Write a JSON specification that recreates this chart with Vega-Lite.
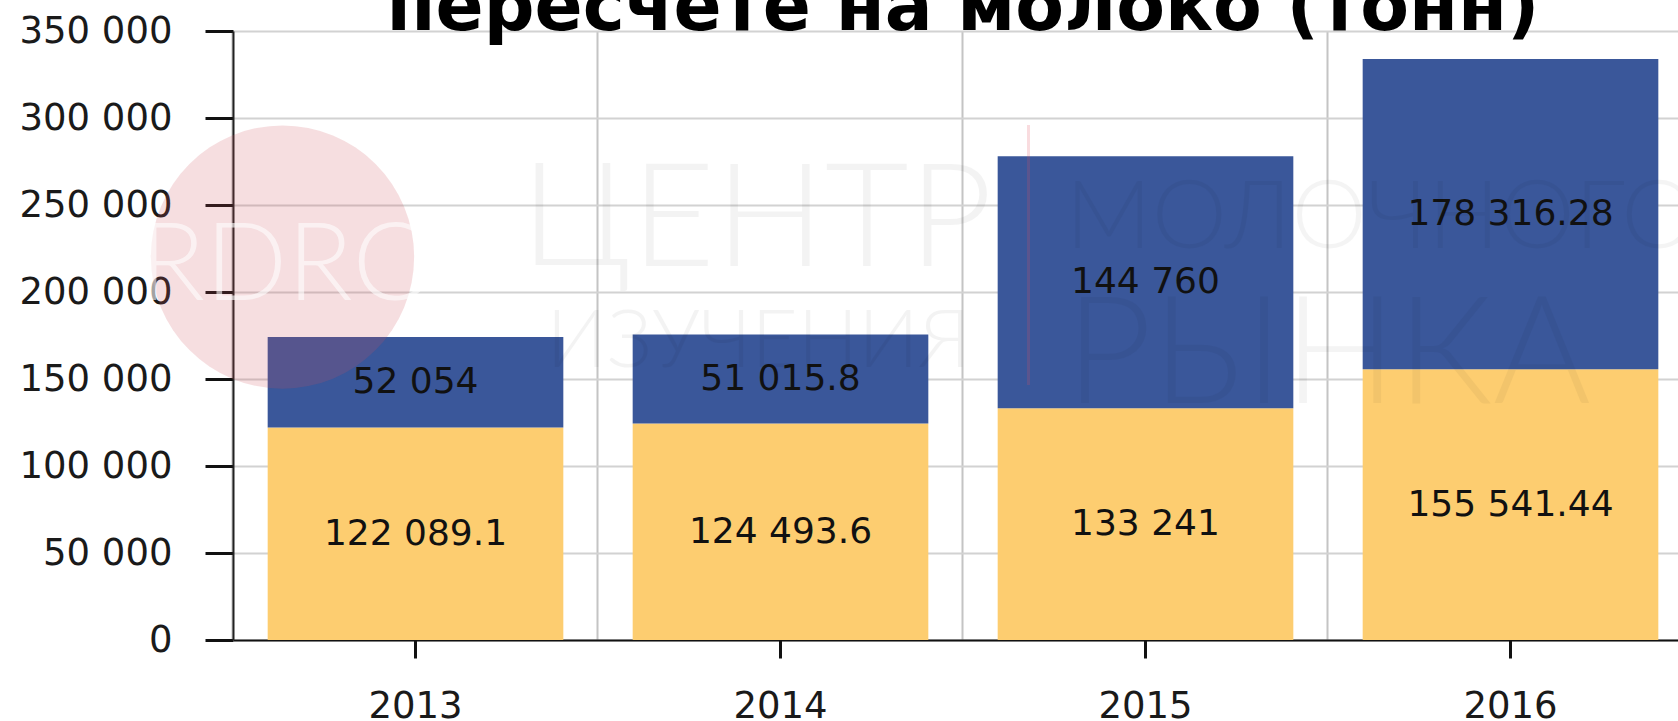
{
  "$schema": "https://vega.github.io/schema/vega-lite/v6.json",
  "width": 1460,
  "height": 609,
  "autosize": {"type": "none"},
  "padding": {"left": 233, "top": 31, "right": -15, "bottom": 81},
  "background": "white",
  "title": {
    "text": "пересчете на молоко (тонн)",
    "font": "DejaVu Sans",
    "fontSize": 71,
    "fontWeight": "bold",
    "color": "#000000",
    "anchor": "middle",
    "frame": "group",
    "baseline": "alphabetic",
    "offset": 0,
    "dy": 89
  },
  "config": {
    "locale": {"number": {"decimal": ".", "thousands": " ", "grouping": [3], "currency": ["", ""]}},
    "view": {"stroke": null},
    "axis": {"labelFont": "DejaVu Sans", "labelColor": "#1a1a1a"}
  },
  "data": {
    "values": [
      {"year": "2013", "series": "1", "value": 122089.1},
      {"year": "2013", "series": "2", "value": 52054},
      {"year": "2014", "series": "1", "value": 124493.6},
      {"year": "2014", "series": "2", "value": 51015.8},
      {"year": "2015", "series": "1", "value": 133241},
      {"year": "2015", "series": "2", "value": 144760},
      {"year": "2016", "series": "1", "value": 155541.44},
      {"year": "2016", "series": "2", "value": 178316.28}
    ]
  },
  "resolve": {"axis": {"x": "independent"}},
  "layer": [
    {
      "mark": {"type": "bar"},
      "encoding": {
        "x": {
          "field": "year", "type": "nominal",
          "scale": {"paddingInner": 0.19, "paddingOuter": 0.095},
          "axis": {
            "orient": "bottom", "title": null, "labels": false, "ticks": false,
            "grid": true, "bandPosition": -0.1173, "gridColor": "#c4c4c4", "gridWidth": 2,
            "domain": true, "domainColor": "#111111", "domainWidth": 2
          }
        },
        "y": {
          "field": "value", "type": "quantitative", "stack": "zero",
          "scale": {"domain": [0, 350000], "nice": false},
          "axis": {
            "title": null, "values": [0, 50000, 100000, 150000, 200000, 250000, 300000, 350000],
            "format": ",d", "labelFontSize": 37, "labelPadding": 33,
            "tickSize": 28, "tickWidth": 3, "tickColor": "#111111",
            "domainColor": "#222222", "domainWidth": 2,
            "grid": true, "gridColor": "#d2d2d2", "gridWidth": 2
          }
        },
        "color": {
          "field": "series", "type": "nominal",
          "scale": {"domain": ["1", "2"], "range": ["#FDCD70", "#3A579A"]},
          "legend": null
        },
        "order": {"field": "series", "sort": "ascending"}
      }
    },
    {
      "mark": {"type": "text", "font": "DejaVu Sans", "fontSize": 36, "color": "#111111", "baseline": "middle", "align": "center"},
      "encoding": {
        "x": {
          "field": "year", "type": "nominal",
          "axis": {
            "orient": "bottom", "title": null, "grid": false, "domain": false,
            "ticks": true, "tickSize": 18, "tickWidth": 3, "tickColor": "#111111",
            "labelFontSize": 37, "labelPadding": 30, "labelAngle": 0
          }
        },
        "y": {"field": "value", "type": "quantitative", "stack": "zero", "bandPosition": 0.5},
        "detail": {"field": "series"},
        "order": {"field": "series", "sort": "ascending"},
        "text": {"field": "value", "type": "quantitative", "format": ","}
      }
    },
    {
      "data": {"values": [{"label": "RDRC"}]},
      "mark": {"type": "point", "filled": true, "shape": "circle", "size": 69300, "color": "#d0505a", "opacity": 0.19, "xOffset": -133},
      "encoding": {
        "x": {"datum": "2013", "type": "nominal", "axis": null},
        "y": {"datum": 220100, "type": "quantitative"}
      }
    },
    {
      "data": {"values": [{"label": "RDRC"}]},
      "mark": {"type": "text", "font": "Lato", "fontWeight": 300, "fontSize": 108, "color": "white", "opacity": 0.6, "align": "center", "baseline": "middle", "xOffset": -133},
      "encoding": {
        "x": {"datum": "2013", "type": "nominal", "axis": null},
        "y": {"datum": 214000, "type": "quantitative"},
        "text": {"field": "label"}
      }
    },
    {
      "data": {"values": [{"label": "ЦЕНТР"}]},
      "mark": {"type": "text", "font": "Lato", "fontWeight": 300, "fontSize": 145, "color": "#000000", "opacity": 0.045, "align": "center", "baseline": "middle", "xOffset": -24},
      "encoding": {
        "x": {"datum": "2014", "type": "nominal", "axis": null},
        "y": {"datum": 240230, "type": "quantitative"},
        "text": {"field": "label"}
      }
    },
    {
      "data": {"values": [{"label": "ИЗУЧЕНИЯ"}]},
      "mark": {"type": "text", "font": "Lato", "fontWeight": 300, "fontSize": 80, "color": "#000000", "opacity": 0.045, "align": "center", "baseline": "middle", "xOffset": -22},
      "encoding": {
        "x": {"datum": "2014", "type": "nominal", "axis": null},
        "y": {"datum": 170690, "type": "quantitative"},
        "text": {"field": "label"}
      }
    },
    {
      "data": {"values": [{"label": "МОЛОЧНОГО"}]},
      "mark": {"type": "text", "font": "Lato", "fontWeight": 300, "fontSize": 95, "color": "#000000", "opacity": 0.04, "align": "left", "baseline": "middle", "xOffset": -80},
      "encoding": {
        "x": {"datum": "2015", "type": "nominal", "axis": null},
        "y": {"datum": 241950, "type": "quantitative"},
        "text": {"field": "label"}
      }
    },
    {
      "data": {"values": [{"label": "РЫНКА"}]},
      "mark": {"type": "text", "font": "Lato", "fontWeight": 300, "fontSize": 150, "color": "#000000", "opacity": 0.04, "align": "left", "baseline": "middle", "xOffset": -80},
      "encoding": {
        "x": {"datum": "2015", "type": "nominal", "axis": null},
        "y": {"datum": 162070, "type": "quantitative"},
        "text": {"field": "label"}
      }
    },
    {
      "data": {"values": [{"label": "line"}]},
      "mark": {"type": "rule", "color": "#e05060", "opacity": 0.2, "strokeWidth": 3, "xOffset": -117},
      "encoding": {
        "x": {"datum": "2015", "type": "nominal", "axis": null},
        "y": {"datum": 296000, "type": "quantitative"},
        "y2": {"datum": 146550}
      }
    }
  ]
}
